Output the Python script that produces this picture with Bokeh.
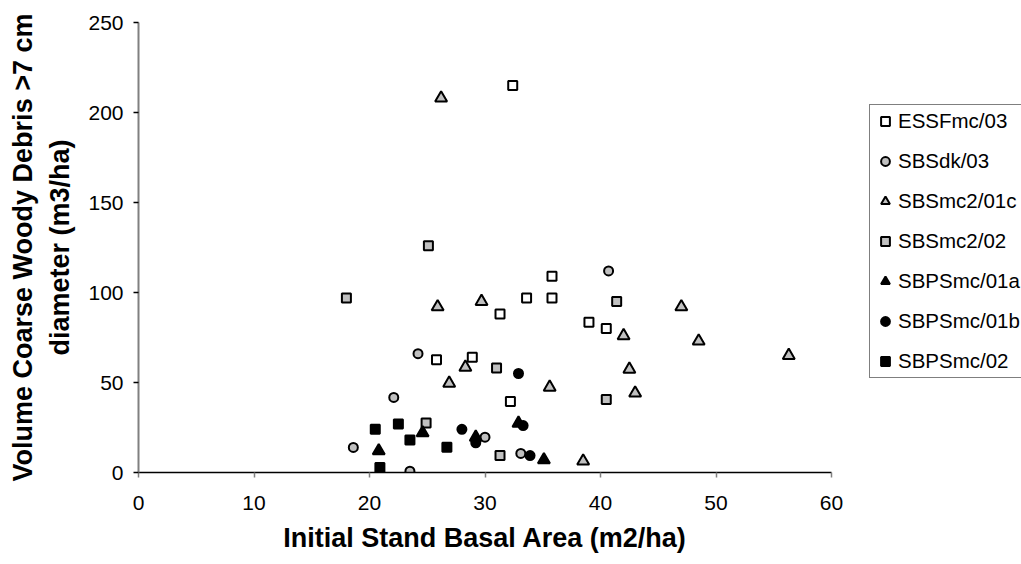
from bokeh.plotting import figure
from bokeh.models import Range1d, FixedTicker, Legend, LegendItem, ColumnDataSource
from bokeh.layouts import row
from bokeh.embed import file_html
from bokeh.resources import INLINE

# ---- data ----
essf_x = [32.4, 35.8, 33.6, 35.8, 31.3, 39.0, 40.5, 28.9, 25.8, 32.2]
essf_y = [215, 109, 97, 97, 88, 83.5, 80, 64, 62.6, 39.4]

sbsdk_x = [40.7, 24.2, 22.1, 18.6, 30.0, 33.1, 23.5]
sbsdk_y = [112, 66, 41.7, 13.9, 19.6, 10.6, 0.7]

sbsmc01c_x = [26.2, 25.9, 29.7, 47.0, 42.0, 48.5, 56.3, 28.3, 42.5, 26.9, 35.6, 43.0, 38.5]
sbsmc01c_y = [208, 92, 95, 92, 76, 73, 65, 58.5, 57.4, 49.6, 47.4, 44.1, 6.3]

sbsmc02_x = [18.0, 25.1, 41.4, 31.0, 40.5, 24.9, 31.3]
sbsmc02_y = [97, 126, 95, 58, 40.5, 27.5, 9.5]

sbps01a_x = [20.8, 24.6, 29.2, 32.9, 35.1]
sbps01a_y = [12, 22, 19.6, 27.4, 7.0]

sbps01b_x = [32.9, 28.0, 29.2, 33.3, 33.9]
sbps01b_y = [55, 24, 16.5, 26.1, 9.4]

sbps02_x = [20.5, 22.5, 23.5, 26.7, 20.9]
sbps02_y = [24, 27, 18, 14, 2.8]

series_names = ["ESSFmc/03", "SBSdk/03", "SBSmc2/01c", "SBSmc2/02",
                "SBPSmc/01a", "SBPSmc/01b", "SBPSmc/02"]
x_ticks = [0, 10, 20, 30, 40, 50, 60]
y_ticks = [0, 50, 100, 150, 200, 250]

FONT = "Liberation Sans"
GRAY = "#C0C0C0"

p = figure(width=869, height=564, output_backend="svg", toolbar_location=None,
           x_range=Range1d(0, 60), y_range=Range1d(0, 250),
           min_border_left=138, min_border_right=38, min_border_top=22, min_border_bottom=92)
p.outline_line_color = None
p.grid.visible = False
p.background_fill_color = "white"
p.border_fill_color = "white"

# axes
p.xaxis.ticker = FixedTicker(ticks=x_ticks)
p.yaxis.ticker = FixedTicker(ticks=y_ticks)
for ax in (p.xaxis[0], p.yaxis[0]):
    ax.major_label_text_font = FONT
    ax.major_label_text_font_size = "21px"
    ax.major_label_text_color = "black"
    ax.minor_tick_line_color = None
    ax.major_tick_in = 0
    ax.major_tick_out = 5
    ax.axis_label_text_font = FONT
    ax.axis_label_text_font_style = "bold"
    ax.axis_label_text_color = "black"
    ax.axis_label_text_font_size = "27px"

p.xaxis.axis_line_color = "black"
p.xaxis.axis_line_width = 1.5
p.xaxis.major_tick_line_color = "#808080"
p.xaxis.major_tick_line_width = 1.5
p.xaxis.major_label_standoff = 18
p.xaxis.axis_label = "Initial Stand Basal Area (m2/ha)"
p.xaxis.axis_label_standoff = 10

p.yaxis.axis_line_color = "#808080"
p.yaxis.axis_line_width = 2
p.yaxis.major_tick_line_color = "black"
p.yaxis.major_tick_line_width = 1.5
p.yaxis.major_label_standoff = 10
p.yaxis.axis_label = "Volume Coarse Woody Debris >7 cm\ndiameter (m3/ha)"
p.yaxis.axis_label_standoff = 10
p.yaxis.axis_label_text_line_height = 1.25

# series
specs = [
    (essf_x, essf_y, "square", "white", 9),
    (sbsdk_x, sbsdk_y, "circle", GRAY, 9),
    (sbsmc01c_x, sbsmc01c_y, "triangle", GRAY, 12),
    (sbsmc02_x, sbsmc02_y, "square", GRAY, 9),
    (sbps01a_x, sbps01a_y, "triangle", "black", 12),
    (sbps01b_x, sbps01b_y, "circle", "black", 9),
    (sbps02_x, sbps02_y, "square", "black", 9),
]
for xs, ys, marker, fill, size in specs:
    src = ColumnDataSource(dict(x=xs, y=ys))
    p.scatter("x", "y", source=src, marker=marker, size=size,
              fill_color=fill, line_color="black", line_width=2)

# legend panel: a figure without axes whose ranges keep its copies of the
# series out of view, so that only the legend shows.  Its borders match the
# main plot's (the row aligns them), so its frame spans the same height.
lf = figure(width=152, height=564, output_backend="svg", toolbar_location=None,
            x_axis_location=None, y_axis_location=None,
            x_range=Range1d(1000, 1001), y_range=Range1d(1000, 1001),
            min_border_left=0, min_border_right=0, min_border_top=22, min_border_bottom=92)
lf.grid.visible = False
lf.outline_line_color = None
lf.background_fill_color = "white"
lf.border_fill_color = "white"
items = []
for (xs, ys, marker, fill, size), name in zip(specs, series_names):
    src = ColumnDataSource(dict(x=xs, y=ys))
    r = lf.scatter("x", "y", source=src, marker=marker, size=size,
                   fill_color=fill, line_color="black", line_width=2)
    items.append(LegendItem(label=name, renderers=[r], index=0))

legend = Legend(items=items, location=(0, 94), orientation="vertical",
                label_text_font=FONT, label_text_font_size="20.5px", label_text_color="black",
                glyph_width=22, glyph_height=22, label_height=22, spacing=16,
                padding=4, label_standoff=2, margin=0,
                border_line_color="black", border_line_width=1,
                background_fill_color="white", background_fill_alpha=1)
lf.add_layout(legend, "center")

layout = row(p, lf, spacing=0)
open("out.html", "w").write(file_html(layout, INLINE))
